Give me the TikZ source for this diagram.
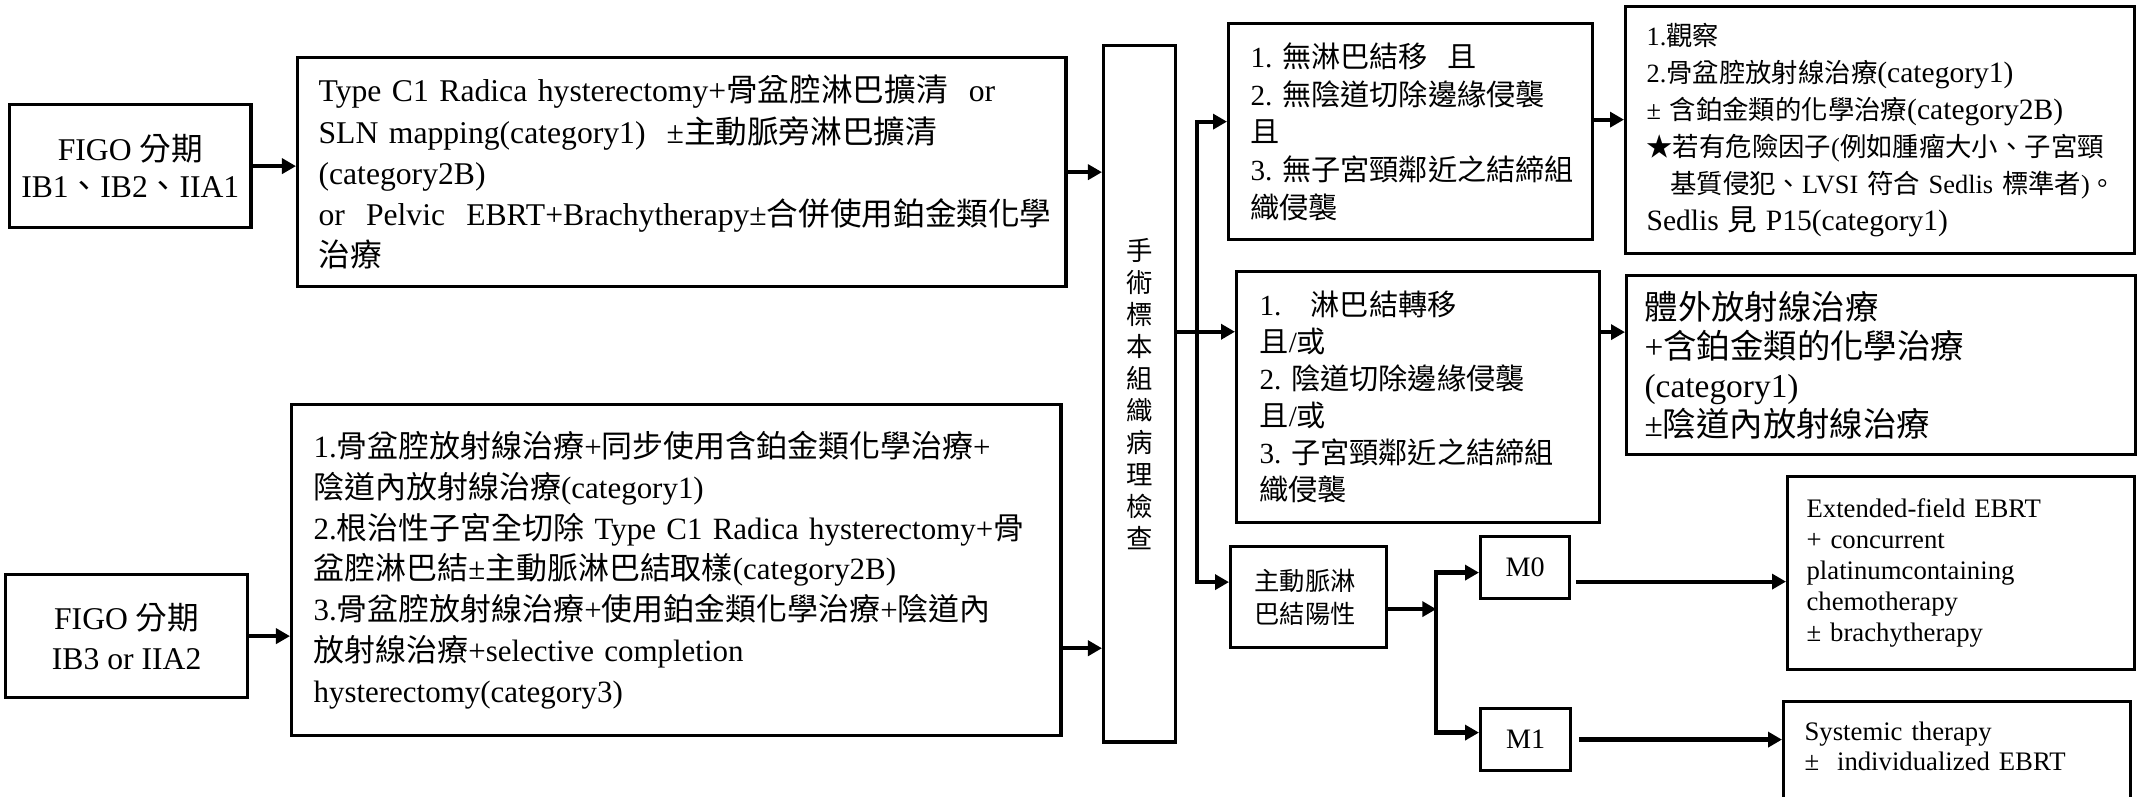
\documentclass[tikz,border=0pt]{standalone}
\usepackage{fontspec}
\setmainfont{Liberation Serif}
\newfontfamily\cjk{Noto Sans CJK TC}
\usetikzlibrary{arrows.meta}

% Chinese characters are set in the CJK font, the rest in the main font
\XeTeXinterchartokenstate=1
\newXeTeXintercharclass\zhclass
\newcount\zhcode
\zhcode="4E00
\loop
  \XeTeXcharclass\zhcode=\zhclass
  \advance\zhcode by 1
\ifnum\zhcode<"A000 \repeat
\XeTeXcharclass"3001=\zhclass
\XeTeXcharclass"3002=\zhclass
\XeTeXcharclass"2605=\zhclass
\XeTeXinterchartoks 0 \zhclass = {\cjk}
\XeTeXinterchartoks 4095 \zhclass = {\cjk}
\XeTeXinterchartoks \zhclass 0 = {\rmfamily}
\XeTeXinterchartoks \zhclass 4095 = {\rmfamily}

\newcommand{\catsz}[1]{{\fontsize{8.4}{10.5}\selectfont #1}}

\tikzset{
  box/.style={draw, line width=0.9pt, align=left, inner ysep=0pt, anchor=north west},
  arr/.style={->, line width=1.2pt},
}

\begin{document}
\begin{tikzpicture}[x=0.01cm, y=-0.01cm, >={Triangle[length=0.14cm, width=0.15cm]}]
    \useasboundingbox (0,0) rectangle (2138,797);
    \clip (0,0) rectangle (2138,797);
    \fill[white] (0,0) rectangle (2138,797);

    % left column
    \node[box, align=center, minimum width=2.41cm, minimum height=1.23cm, font=\fontsize{9}{10.5}\selectfont] (figoA) at (8,103) {FIGO 分期\\IB1、IB2、IIA1};
    \node[box, align=center, minimum width=2.42cm, minimum height=1.23cm, font=\fontsize{9}{11.4}\selectfont] (figoB) at (4,573) {FIGO 分期\\IB3 or IIA2};

    \node[box, inner xsep=0.21cm, text width=7.26cm, minimum height=2.29cm, font=\fontsize{9}{11.7}\selectfont] (treatA) at (296,56)
        {Type C1 Radica hysterectomy+骨盆腔淋巴擴清~~or\\
         SLN mapping(category1)~~±主動脈旁淋巴擴清\\
         (category2B)\\
         or~~Pelvic~~EBRT+Brachytherapy±合併使用鉑金類化學\\
         治療};
    \node[box, inner xsep=0.22cm, text width=7.25cm, minimum height=3.31cm, font=\fontsize{8.8}{11.6}\selectfont] (treatB) at (290,403)
        {1.骨盆腔放射線治療+同步使用含鉑金類化學治療+\\
         陰道內放射線治療(category1)\\
         2.根治性子宮全切除~Type~C1~Radica~hysterectomy+骨\\
         盆腔淋巴結±主動脈淋巴結取樣(category2B)\\
         3.骨盆腔放射線治療+使用鉑金類化學治療+陰道內\\
         放射線治療+selective~completion\\
         hysterectomy(category3)};

    \node[box, align=center, minimum width=0.72cm, minimum height=6.96cm, font=\fontsize{7.5}{9.1}\selectfont] (patho) at (1102,44)
        {手\\術\\標\\本\\組\\織\\病\\理\\檢\\查};

    % pathology results
    \node[box, inner xsep=0.22cm, text width=3.2cm, minimum height=2.16cm, font=\fontsize{8.3}{10.7}\selectfont] (lowRisk) at (1227,22)
        {1.~無淋巴結移~~且\\
         2.~無陰道切除邊緣侵襲\\
         且\\
         3.~無子宮頸鄰近之結締組\\
         織侵襲};
    \node[box, inner xsep=0.23cm, text width=3.17cm, minimum height=2.51cm, font=\fontsize{8.3}{10.5}\selectfont] (highRisk) at (1235,270)
        {1.~~~淋巴結轉移\\
         且/或\\
         2.~陰道切除邊緣侵襲\\
         且/或\\
         3.~子宮頸鄰近之結締組\\
         織侵襲};
    \node[box, inner xsep=0.24cm, text width=1.08cm, minimum height=1.01cm, font=\fontsize{7.2}{9.4}\selectfont] (aortic) at (1229,545)
        {主動脈淋\\巴結陽性};

    \node[box, align=center, minimum width=0.89cm, minimum height=0.62cm, font=\fontsize{8}{9.6}\selectfont] (mZero) at (1479,535) {M0};
    \node[box, align=center, minimum width=0.9cm, minimum height=0.62cm, font=\fontsize{8}{9.6}\selectfont] (mOne) at (1479,707) {M1};

    % treatments
    \node[box, inner xsep=0.21cm, text width=4.67cm, minimum height=2.47cm, font=\fontsize{7.5}{10.5}\selectfont] (obsTx) at (1624,5)
        {1.觀察\\
         2.骨盆腔放射線治療\catsz{(category1)}\\
         ±~含鉑金類的化學治療\catsz{(category2B)}\\
         ★若有危險因子(例如腫瘤大小、子宮頸\\
         \hspace*{0.9em}基質侵犯、LVSI~符合~Sedlis~標準者)。\\
         \catsz{Sedlis~見~P15(category1)}};
    \node[box, inner xsep=0.18cm, text width=4.73cm, minimum height=1.79cm, font=\fontsize{9.5}{11.1}\selectfont] (chemoTx) at (1625,274)
        {體外放射線治療\\
         +含鉑金類的化學治療\\
         (category1)\\
         ±陰道內放射線治療};
    \node[box, inner xsep=0.19cm, text width=3.09cm, minimum height=1.93cm, font=\fontsize{7.6}{8.8}\selectfont] (efTx) at (1786,475)
        {Extended-field EBRT\\
         + concurrent\\
         platinumcontaining\\
         chemotherapy\\
         ± brachytherapy};
    \node[box, inner xsep=0.21cm, inner ysep=0.2cm, text width=3.05cm, text depth=1cm, font=\fontsize{7.6}{8.5}\selectfont] (sysTx) at (1782,700)
        {Systemic therapy\\
         ±~~individualized EBRT};

    % connectors
    \draw[arr] (figoA.east) -- (figoA.east -| treatA.west);
    \draw[arr] (figoB.east) -- (figoB.east -| treatB.west);
    \draw[arr] (treatA.east) -- (treatA.east -| patho.west);
    \draw[arr] ([yshift=-0.78cm]treatB.east) -- ([yshift=-0.78cm]treatB.east -| patho.west);

    \draw[arr] ([yshift=0.62cm]patho.east) -- ([yshift=0.62cm]patho.east -| highRisk.west);
    \coordinate (fork) at ([xshift=0.2cm, yshift=0.62cm]patho.east);
    \draw[arr] (fork) |- ([yshift=0.1cm]lowRisk.west);
    \draw[arr] (fork) |- ([yshift=0.15cm]aortic.west);

    \draw[arr] ([yshift=0.12cm]lowRisk.east) -- ([yshift=0.12cm]lowRisk.east -| obsTx.west);
    \draw[arr] ([yshift=0.65cm]highRisk.east) -- ([yshift=0.65cm]highRisk.east -| chemoTx.west);

    \coordinate (mfork) at ([xshift=0.48cm, yshift=-0.12cm]aortic.east);
    \draw[arr] ([yshift=-0.12cm]aortic.east) -- (mfork);
    \draw[arr] (mfork) |- ([yshift=-0.05cm]mZero.west);
    \draw[arr] (mfork) |- ([yshift=0.07cm]mOne.west);

    \draw[arr] ([xshift=0.05cm, yshift=-0.14cm]mZero.east) -- ([yshift=-0.14cm]mZero.east -| efTx.west);
    \draw[arr] ([xshift=0.07cm]mOne.east) -- (mOne.east -| sysTx.west);
\end{tikzpicture}
\end{document}
